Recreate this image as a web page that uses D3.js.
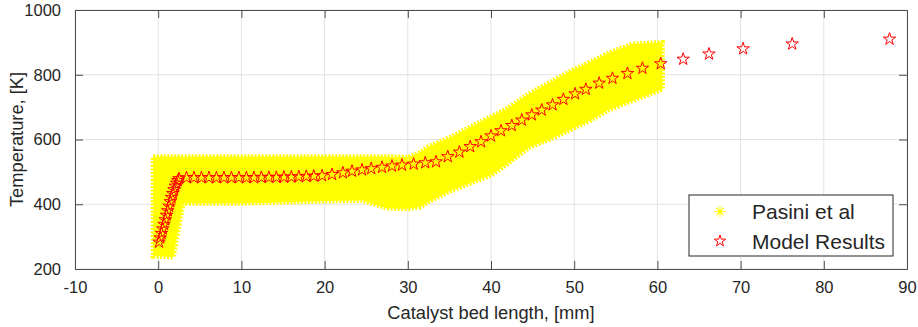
<!DOCTYPE html>
<html>
<head>
<meta charset="utf-8">
<script src="https://cdn.jsdelivr.net/npm/d3@7"></script>
<style>
  body { margin: 0; background: #fff; }
  text { font-family: "Liberation Sans", Arial, sans-serif; fill: #262626; }
</style>
</head>
<body>
<div id="chart"></div>
<script>
const width = 918;
const height = 327;
const margin = { top: 10, right: 11, bottom: 58, left: 75 };

// Pasini et al - band of asterisks (lower / upper edge)
const pasiniX  = [-0.6, 1.8, 3.0, 10, 20, 24.5, 27.5, 30, 31.5, 32.5, 35, 38, 40, 42, 44.5, 47, 49.5, 52, 54, 57, 60.6];
const pasiniLo = [240, 237, 403, 403, 410, 412, 388, 386, 392, 408, 440, 470, 490, 525, 575, 600, 630, 660, 690, 720, 755];
const pasiniHi = [547, 547, 547, 547, 547, 547, 547, 545, 560, 578, 605, 645, 670, 696, 740, 775, 810, 840, 865, 895, 900];

// Model results
const modelX = [0.1, 0.25, 0.4, 0.55, 0.7, 0.85, 1.0, 1.15, 1.3, 1.45, 1.6, 1.75, 1.9, 2.05, 2.2, 2.35, 2.5,
  3.4, 4.3, 5.2, 6.1, 7.0, 7.9, 8.8, 9.7, 10.6, 11.5, 12.4, 13.3, 14.2, 15.1, 16.0, 16.9, 17.8, 18.7, 19.7, 20.9,
  22.2, 23.3, 24.5, 25.6, 26.9, 28.1, 29.3, 30.7, 32.1, 33.4, 34.8, 36.2, 37.5, 38.8, 40.0, 41.2, 42.5, 43.7,
  44.9, 46.1, 47.4, 48.7, 50.1, 51.4, 53.0, 54.6, 56.4, 58.2, 60.4, 63.1, 66.2, 70.3, 76.2, 87.9];
const modelT = [283, 296, 310, 324, 338, 352, 366, 380, 394, 408, 421, 433, 445, 456, 465, 473, 479,
  482, 482, 482, 482, 482, 482, 482, 482, 482, 482, 483, 483, 483, 484, 484, 485, 486, 487, 488, 492,
  497, 502, 506, 510, 514, 518, 521, 524, 528, 531, 547, 561, 578, 593, 611, 627, 643, 660,
  676, 691, 707, 724, 741, 755, 774, 789, 804, 820, 834, 848, 864, 880, 895, 910];

const xTicks = [-10, 0, 10, 20, 30, 40, 50, 60, 70, 80, 90];
const yTicks = [200, 400, 600, 800, 1000];

const svg = d3.select("#chart")
  .append("svg")
  .attr("width", width)
  .attr("height", height);

const x = d3.scaleLinear().domain([-10, 90]).range([margin.left, width - margin.right]);
const y = d3.scaleLinear().domain([200, 1000]).range([height - margin.bottom, margin.top]);

const fmt = d => (d < 0 ? "-" + Math.abs(d) : String(d));

// grid
svg.append("g")
  .selectAll("line")
  .data(xTicks)
  .join("line")
  .attr("x1", d => x(d)).attr("x2", d => x(d))
  .attr("y1", y(200)).attr("y2", y(1000))
  .attr("stroke", "#e3e3e3");
svg.append("g")
  .selectAll("line")
  .data(yTicks)
  .join("line")
  .attr("x1", x(-10)).attr("x2", x(90))
  .attr("y1", d => y(d)).attr("y2", d => y(d))
  .attr("stroke", "#e3e3e3");

// Pasini band
const band = pasiniX.map((d, i) => ({ x: d, lo: pasiniLo[i], hi: pasiniHi[i] }));
const area = d3.area()
  .x(d => x(d.x))
  .y0(d => y(d.lo))
  .y1(d => y(d.hi));

svg.append("path")
  .datum(band)
  .attr("d", area)
  .attr("fill", "#ffff00")
  .attr("stroke", "#ffff00")
  .attr("stroke-width", 5)
  .attr("stroke-dasharray", "2,1.5");

// model stars
const star = d3.symbol().type(d3.symbolStar).size(48);
svg.append("g")
  .selectAll("path")
  .data(modelX.map((d, i) => [d, modelT[i]]))
  .join("path")
  .attr("d", star)
  .attr("transform", d => `translate(${x(d[0])},${y(d[1])})`)
  .attr("fill", "none")
  .attr("stroke", "#ff0000")
  .attr("stroke-width", 1);

// axes
const axisColor = "#4d4d4d";
const xAxis = svg.append("g")
  .attr("transform", `translate(0,${y(200)})`)
  .call(d3.axisBottom(x).tickValues(xTicks).tickSize(-8).tickPadding(12).tickFormat(fmt));
const yAxis = svg.append("g")
  .attr("transform", `translate(${x(-10)},0)`)
  .call(d3.axisLeft(y).tickValues(yTicks).tickSize(-8).tickPadding(14).tickFormat(fmt));
const xTop = svg.append("g")
  .attr("transform", `translate(0,${y(1000)})`)
  .call(d3.axisTop(x).tickValues(xTicks).tickSize(-8).tickFormat(""));
const yRight = svg.append("g")
  .attr("transform", `translate(${x(90)},0)`)
  .call(d3.axisRight(y).tickValues(yTicks).tickSize(-8).tickFormat(""));

[xAxis, yAxis, xTop, yRight].forEach(g => {
  g.select(".domain").attr("stroke", axisColor);
  g.selectAll(".tick line").attr("stroke", axisColor);
  g.selectAll(".tick text")
    .attr("font-family", "Liberation Sans, Arial, sans-serif")
    .attr("font-size", 16.5)
    .attr("fill", "#262626");
});

// axis labels
svg.append("text")
  .attr("x", (x(-10) + x(90)) / 2)
  .attr("y", 319)
  .attr("text-anchor", "middle")
  .attr("font-size", 18.3)
  .text("Catalyst bed length, [mm]");

svg.append("text")
  .attr("transform", `translate(23,${(y(200) + y(1000)) / 2}) rotate(-90)`)
  .attr("text-anchor", "middle")
  .attr("font-size", 18.3)
  .text("Temperature, [K]");

// legend
const legend = svg.append("g").attr("transform", "translate(689,195)");
legend.append("rect")
  .attr("width", 204)
  .attr("height", 61)
  .attr("fill", "#fff")
  .attr("stroke", "#262626")
  .attr("stroke-width", 1);

const ast = legend.append("g").attr("transform", "translate(31,16.5)");
const r = 5.5;
ast.append("path")
  .attr("d", `M${-r},0H${r}M0,${-r}V${r}M${-r * 0.7},${-r * 0.7}L${r * 0.7},${r * 0.7}M${-r * 0.7},${r * 0.7}L${r * 0.7},${-r * 0.7}`)
  .attr("stroke", "#ffff00")
  .attr("stroke-width", 1.2);

legend.append("path")
  .attr("d", d3.symbol().type(d3.symbolStar).size(40)())
  .attr("transform", "translate(31,46)")
  .attr("fill", "none")
  .attr("stroke", "#ff0000");

legend.append("text")
  .attr("x", 63)
  .attr("y", 24)
  .attr("font-size", 21)
  .attr("fill", "#000")
  .text("Pasini et al");
legend.append("text")
  .attr("x", 63)
  .attr("y", 53.5)
  .attr("font-size", 21)
  .attr("fill", "#000")
  .text("Model Results");
</script>
</body>
</html>
